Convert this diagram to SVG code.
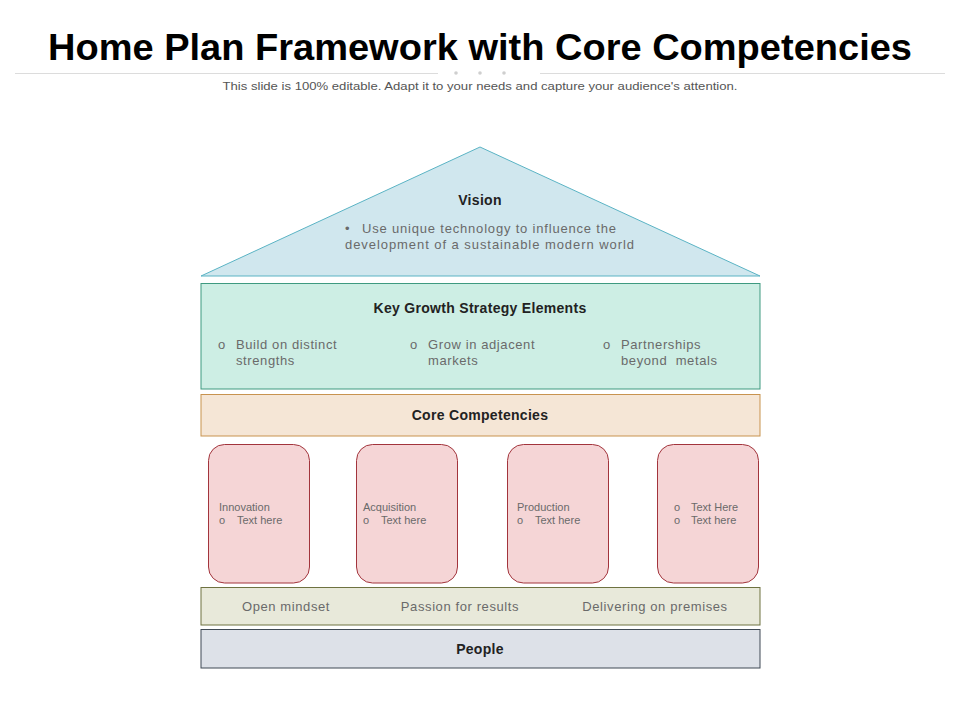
<svg xmlns="http://www.w3.org/2000/svg" width="960" height="720" viewBox="0 0 960 720">
<style>
text{font-family:"Liberation Sans",Arial,sans-serif}
.h{font-weight:bold;font-size:14px;fill:#222;text-anchor:middle;letter-spacing:0.3px}
.b{font-size:13px;fill:#6a6a6a;letter-spacing:0.6px}
.s{font-size:11px;fill:#6a6a6a}
.card{fill:#f5d5d6;stroke:#a2343c;stroke-width:1}
.c{text-anchor:middle}
</style>
<rect width="960" height="720" fill="#fff"/>
<text x="480" y="60" font-size="36" font-weight="bold" fill="#000" text-anchor="middle" textLength="864" lengthAdjust="spacingAndGlyphs">Home Plan Framework with Core Competencies</text>
<g stroke="#dcdcdc" stroke-width="1"><line x1="15" y1="73.5" x2="438" y2="73.5"/><line x1="540" y1="73.5" x2="945" y2="73.5"/></g>
<g fill="#cfcfcf"><circle cx="456" cy="73" r="1.8"/><circle cx="480" cy="73" r="1.8"/><circle cx="504" cy="73" r="1.8"/></g>
<text x="480" y="90" font-size="11" fill="#555" text-anchor="middle" textLength="515" lengthAdjust="spacingAndGlyphs">This slide is 100% editable. Adapt it to your needs and capture your audience's attention.</text>

<g id="vision">
<polygon points="480,147 760,276 201,276" fill="#d0e7ee" stroke="#5ab3c4" stroke-width="1"/>
<text x="480" y="205" class="h">Vision</text>
<text x="345" y="233" font-size="13" fill="#6a6a6a">•</text>
<text x="362" y="233" font-size="13" fill="#6a6a6a" textLength="254" lengthAdjust="spacing">Use unique technology to influence the</text>
<text x="345" y="249" font-size="13" fill="#6a6a6a" textLength="289" lengthAdjust="spacing">development of a sustainable modern world</text>
</g>

<g id="growth">
<rect x="201" y="283.5" width="559" height="105.5" fill="#cdeee4" stroke="#3e9a80" stroke-width="1"/>
<text x="480" y="313" class="h">Key Growth Strategy Elements</text>
<text x="218" y="349" class="b">o</text><text x="236" y="349" class="b">Build on distinct</text><text x="236" y="365" class="b">strengths</text>
<text x="410" y="349" class="b">o</text><text x="428" y="349" class="b">Grow in adjacent</text><text x="428" y="365" class="b">markets</text>
<text x="603" y="349" class="b">o</text><text x="621" y="349" class="b">Partnerships</text><text x="621" y="365" class="b">beyond&#160; metals</text>
</g>

<g id="core">
<rect x="201" y="394.5" width="559" height="41.5" fill="#f5e6d6" stroke="#c8934f" stroke-width="1"/>
<text x="480" y="420" class="h" letter-spacing="0.8">Core Competencies</text>
</g>

<g id="innovation">
<rect class="card" x="208.5" y="444.5" width="101" height="138.5" rx="16"/>
<text x="219" y="511" class="s">Innovation</text>
<text x="219" y="524" class="s">o</text><text x="237" y="524" class="s">Text here</text>
</g>
<g id="acquisition">
<rect class="card" x="356.5" y="444.5" width="101" height="138.5" rx="16"/>
<text x="363" y="511" class="s">Acquisition</text>
<text x="363" y="524" class="s">o</text><text x="381" y="524" class="s">Text here</text>
</g>
<g id="production">
<rect class="card" x="507.5" y="444.5" width="101" height="138.5" rx="16"/>
<text x="517" y="511" class="s">Production</text>
<text x="517" y="524" class="s">o</text><text x="535" y="524" class="s">Text here</text>
</g>
<g id="other">
<rect class="card" x="657.5" y="444.5" width="101" height="138.5" rx="16"/>
<text x="674" y="511" class="s">o</text><text x="691" y="511" class="s">Text Here</text>
<text x="674" y="524" class="s">o</text><text x="691" y="524" class="s">Text here</text>
</g>

<g id="values">
<rect x="201" y="587.5" width="559" height="37.5" fill="#e8e9da" stroke="#6e7240" stroke-width="1"/>
<text x="286" y="611" class="b c">Open mindset</text>
<text x="460" y="611" class="b c">Passion for results</text>
<text x="655" y="611" class="b c">Delivering on premises</text>
</g>

<g id="people">
<rect x="201" y="629.5" width="559" height="38.5" fill="#dde1e8" stroke="#3e4954" stroke-width="1"/>
<text x="480" y="654" class="h" fill="#111">People</text>
</g>
</svg>
